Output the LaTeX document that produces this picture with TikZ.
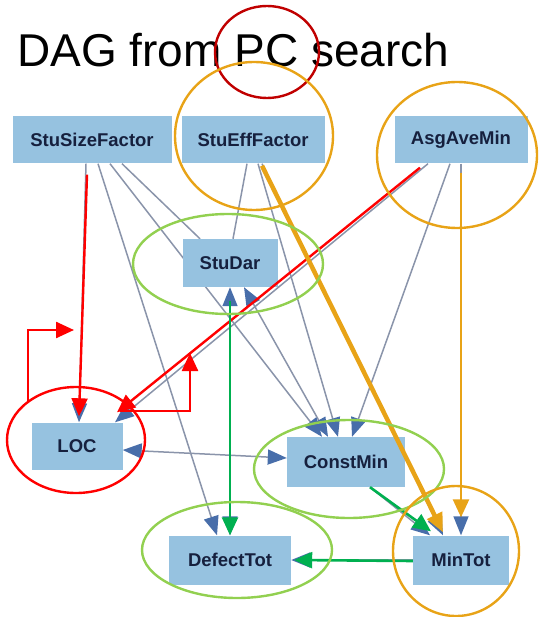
\documentclass[tikz,border=0pt]{standalone}
\usepackage{fontspec}
\setmainfont{Liberation Sans}
\usetikzlibrary{arrows.meta,backgrounds}

\definecolor{boxblue}{RGB}{150,194,224}
\definecolor{boxtext}{RGB}{22,32,62}
\definecolor{edgegray}{RGB}{138,148,170}
\definecolor{headblue}{RGB}{72,110,170}
\definecolor{markred}{RGB}{255,0,0}
\definecolor{darkred}{RGB}{192,0,0}
\definecolor{markorange}{RGB}{232,163,23}
\definecolor{markgreen}{RGB}{0,176,80}
\definecolor{ringgreen}{RGB}{146,208,80}

\tikzset{
  var/.style={rectangle, fill=boxblue, text=boxtext, inner sep=0pt,
    minimum height=47pt, font=\fontsize{18.5}{20}\selectfont\bfseries},
  gline/.style={draw=edgegray, line width=1.5pt},
  garrow/.style={gline, -{Triangle[length=19pt,width=15pt,color=headblue]}},
  gboth/.style={gline, {Triangle[length=19pt,width=15pt,color=headblue]}-{Triangle[length=19pt,width=15pt,color=headblue]}},
  redarrow/.style={draw=markred, line width=2.4pt, -{Triangle[length=18pt,width=16pt]}},
  greenarrow/.style={draw=markgreen, line width=2.6pt, -{Triangle[length=18pt,width=16pt]}},
  orangethick/.style={draw=markorange, line width=4.5pt, -{Triangle[length=19pt,width=16pt]}},
  orangethin/.style={draw=markorange, line width=2.6pt, -{Triangle[length=18pt,width=16pt]}},
  markring/.style={draw=#1, line width=2.4pt}
}

\begin{document}
\begin{tikzpicture}[x=1pt, y=-1pt]
      \useasboundingbox (0,0) rectangle (541,617);

      % title
      \node[font=\fontsize{46}{50}\selectfont, anchor=base west, inner sep=0pt](title) at (17,67){DAG from PC search};

      % variables
      \node[var, minimum width=159pt](SSF) at (92,140){StuSizeFactor};
      \node[var, minimum width=143pt](SEF) at (253,140){StuEffFactor};
      \node[var, minimum width=133pt](AAM) at (461,140){AsgAveMin};
      \node[var, minimum width=95pt, minimum height=48pt](SD) at (230,263){StuDar};
      \node[var, minimum width=91pt](LOC) at (77,446){LOC};
      \node[var, minimum width=118pt, minimum height=50pt](CM) at (346,462){ConstMin};
      \node[var, minimum width=122pt, minimum height=49pt](DT) at (230,560){DefectTot};
      \node[var, minimum width=96pt, minimum height=49pt](MT) at (461,560){MinTot};

      % PC edges
      \begin{scope}[on background layer]
      \draw[gline] ([xshift=30]SSF.south) -- ([xshift=-30]SD.north);
      \draw[gline] ([xshift=-6]SEF.south) -- ([xshift=3]SD.north);
      \draw[garrow] ([xshift=6]SSF.south) -- ([xshift=-13]DT.north);
      \draw[garrow] ([xshift=18]SSF.south) -- ([xshift=-24]CM.north);
      \draw[garrow] ([xshift=5]SEF.south) -- ([xshift=-8]CM.north);
      \draw[garrow] ([xshift=-11]AAM.south) -- ([xshift=6]CM.north);
      \draw[gboth] ([xshift=14]SD.south) -- ([xshift=-18]CM.north);
      \draw[gboth] (SD.south) -- (DT.north);
      \draw[gboth] ([yshift=-4]LOC.east) -- ([yshift=4]CM.west);
      \draw[garrow] ([xshift=-6]SSF.south) -- ([xshift=2]LOC.north);
      \draw[garrow] ([xshift=-33]AAM.south) -- ([xshift=38]LOC.north);
      \draw[garrow] ([xshift=9]SEF.south) -- ([xshift=-18]MT.north);
      \draw[garrow] (AAM.south) -- (MT.north);
      \draw[garrow] ([xshift=24]CM.south) -- ([xshift=-31]MT.north);
      \draw[garrow] (MT.west) -- (DT.east);
      \end{scope}

      % red marks
      \coordinate (loopA) at (28,402);
      \coordinate (loopB) at (74,330);
      \coordinate (loopC) at (120,411);
      \coordinate (loopD) at (190,353);
      \draw[redarrow] ([xshift=-5,yshift=-11]SSF.south) -- ([xshift=2,yshift=6]LOC.north);
      \draw[redarrow] ([xshift=-41,yshift=-4]AAM.south) -- ([xshift=40,yshift=10]LOC.north);
      \draw[redarrow] (loopA) |- (loopB);
      \draw[redarrow] (loopC) -| (loopD);

      % green marks
      \draw[greenarrow] ([yshift=-14]SD.south) -- (DT.north);
      \draw[greenarrow] ([xshift=24]CM.south) -- ([xshift=-30,yshift=4]MT.north);
      \draw[greenarrow] ([yshift=-1]MT.west) -- ([xshift=3]DT.east);

      % orange marks
      \draw[orangethick] ([xshift=9,yshift=-2]SEF.south) -- ([xshift=-18,yshift=3]MT.north);
      \draw[orangethin] ([yshift=-9]AAM.south) -- ([yshift=18]MT.north);

      % rings
      \draw[markring=darkred] (267,52) ellipse [x radius=52pt, y radius=46pt];
      \draw[markring=markorange] (254,136) ellipse [x radius=79pt, y radius=74pt];
      \draw[markring=markorange] (457,155) ellipse [x radius=80pt, y radius=73pt];
      \draw[markring=ringgreen] (228,264) ellipse [x radius=95pt, y radius=50pt];
      \draw[markring=markred] (76,440) ellipse [x radius=69pt, y radius=53pt];
      \draw[markring=ringgreen] (349,469) ellipse [x radius=95pt, y radius=49pt];
      \draw[markring=ringgreen] (237,550) ellipse [x radius=95pt, y radius=48pt];
      \draw[markring=markorange] (456,551) ellipse [x radius=63pt, y radius=65pt];
    \end{tikzpicture}
\end{document}
